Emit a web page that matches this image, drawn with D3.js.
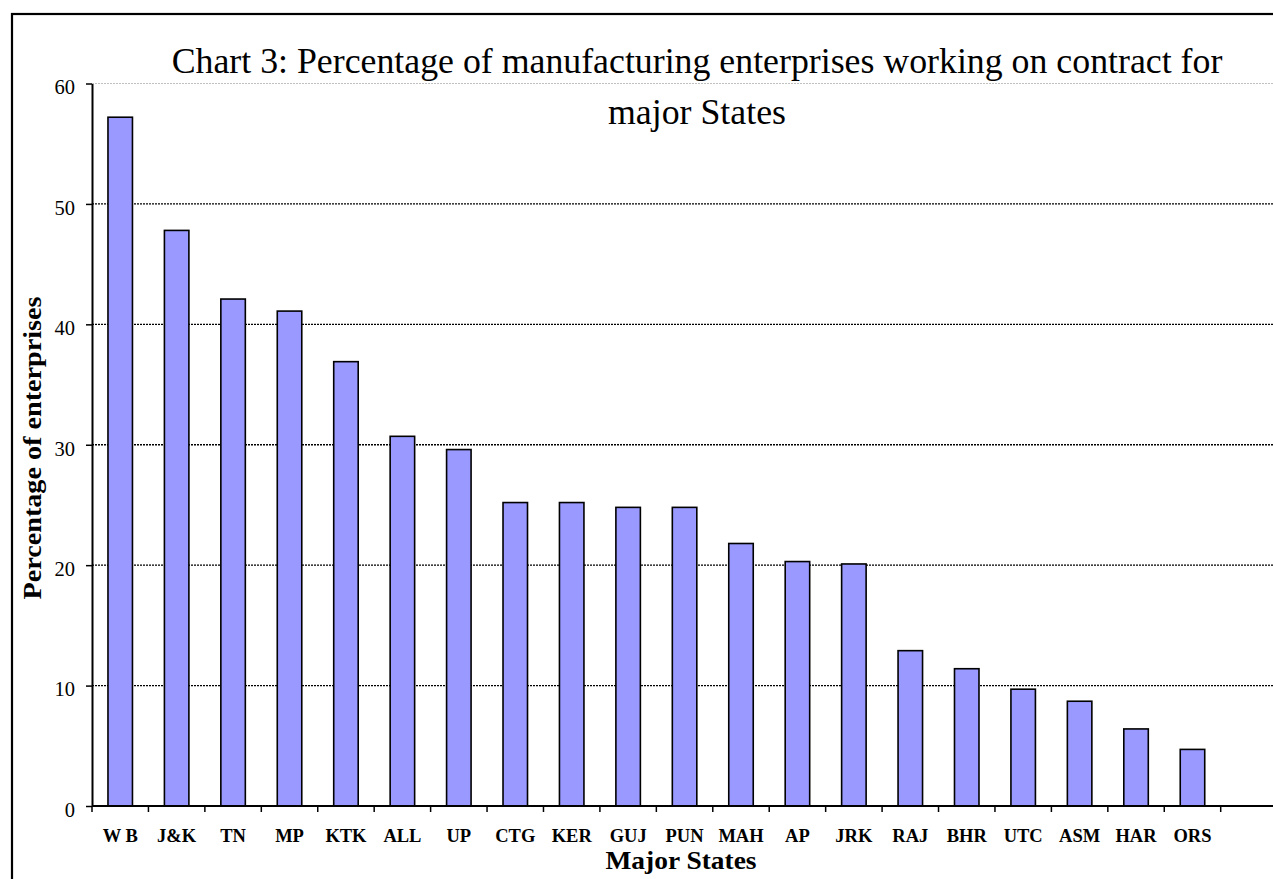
<!DOCTYPE html>
<html>
<head>
<meta charset="utf-8">
<script src="https://cdn.jsdelivr.net/npm/d3@7"></script>
<style>
  body { margin: 0; background: #fff; }
  svg { display: block; }
</style>
</head>
<body>
<svg width="1273" height="879"></svg>
<script>
const states = ["W B", "J&K", "TN", "MP", "KTK", "ALL", "UP", "CTG", "KER", "GUJ",
  "PUN", "MAH", "AP", "JRK", "RAJ", "BHR", "UTC", "ASM", "HAR", "ORS"];
const percent = [57.2, 47.8, 42.1, 41.1, 36.9, 30.7, 29.6, 25.2, 25.2, 24.8,
  24.8, 21.8, 20.3, 20.1, 12.9, 11.4, 9.7, 8.7, 6.4, 4.7];
const yTicks = [0, 10, 20, 30, 40, 50, 60];

const svg = d3.select("svg");

const plotLeft = 92, plotTop = 83.5, plotBottom = 806, plotRight = 1273;
const pad = 0.566;
const serif = "Liberation Serif, Times New Roman, serif";

// outer frame
svg.append("rect")
  .attr("x", 12).attr("y", 14)
  .attr("width", 1300).attr("height", 900)
  .attr("fill", "#fff")
  .attr("stroke", "#000")
  .attr("stroke-width", 2.2);

const x = d3.scaleBand()
  .domain(states)
  .range([plotLeft, 1220.7])
  .paddingInner(pad)
  .paddingOuter(pad / 2);

const y = d3.scaleLinear()
  .domain([0, 60])
  .range([plotBottom, plotTop]);

// gridlines
svg.append("g")
  .selectAll("line")
  .data(yTicks.filter(d => d > 0))
  .enter().append("line")
  .attr("x1", plotLeft).attr("x2", plotRight)
  .attr("y1", d => y(d)).attr("y2", d => y(d))
  .attr("stroke", d => d === 60 ? "#b0b0b0" : "#000")
  .attr("stroke-width", d => d === 60 ? 0.8 : 1.3)
  .attr("stroke-dasharray", "2,1");

// bars
svg.append("g")
  .selectAll("rect")
  .data(states)
  .enter().append("rect")
  .attr("x", d => x(d))
  .attr("y", (d, i) => y(percent[i]))
  .attr("width", x.bandwidth())
  .attr("height", (d, i) => y(0) - y(percent[i]))
  .attr("fill", "#9999ff")
  .attr("stroke", "#000")
  .attr("stroke-width", 1.6);

// y axis
const yAxis = svg.append("g")
  .attr("transform", `translate(${plotLeft},0)`)
  .call(d3.axisLeft(y).tickValues(yTicks).tickSize(6).tickSizeOuter(0));
yAxis.select(".domain").attr("stroke-width", 2);
yAxis.selectAll(".tick line").attr("stroke-width", 1.5);
yAxis.selectAll(".tick text")
  .attr("x", -17)
  .attr("dy", "0.5em")
  .attr("font-family", serif)
  .attr("font-size", 20.5)
  .attr("fill", "#000");

// x axis: labels at band centres, ticks at band edges
const xAxis = svg.append("g")
  .attr("transform", `translate(0,${plotBottom})`)
  .call(d3.axisBottom(x).tickSize(0).tickPadding(23));
xAxis.select(".domain").remove();
xAxis.selectAll(".tick text")
  .attr("font-family", serif)
  .attr("font-weight", "bold")
  .attr("font-size", 18.5)
  .attr("fill", "#000");

xAxis.append("line")
  .attr("x1", plotLeft).attr("x2", plotRight)
  .attr("stroke", "#000").attr("stroke-width", 2);

xAxis.selectAll(".edge")
  .data(states.concat([null]))
  .enter().append("line")
  .attr("class", "edge")
  .attr("x1", (d, i) => plotLeft + i * x.step())
  .attr("x2", (d, i) => plotLeft + i * x.step())
  .attr("y1", 0).attr("y2", 6)
  .attr("stroke", "#000").attr("stroke-width", 1.5);

// titles
const title = svg.append("text")
  .attr("text-anchor", "middle")
  .attr("font-family", serif)
  .attr("font-size", 35.8)
  .attr("fill", "#000");
title.append("tspan").attr("x", 697).attr("y", 73)
  .text("Chart 3: Percentage of manufacturing enterprises working on contract for");
title.append("tspan").attr("x", 697).attr("y", 124)
  .text("major States");

svg.append("text")
  .attr("x", 681).attr("y", 869)
  .attr("text-anchor", "middle")
  .attr("font-family", serif)
  .attr("font-weight", "bold")
  .attr("font-size", 25)
  .attr("textLength", 151)
  .attr("lengthAdjust", "spacingAndGlyphs")
  .text("Major States");

svg.append("text")
  .attr("transform", "translate(41,448) rotate(-90)")
  .attr("text-anchor", "middle")
  .attr("font-family", serif)
  .attr("font-weight", "bold")
  .attr("font-size", 25)
  .attr("textLength", 303)
  .attr("lengthAdjust", "spacingAndGlyphs")
  .text("Percentage of enterprises");
</script>
</body>
</html>
